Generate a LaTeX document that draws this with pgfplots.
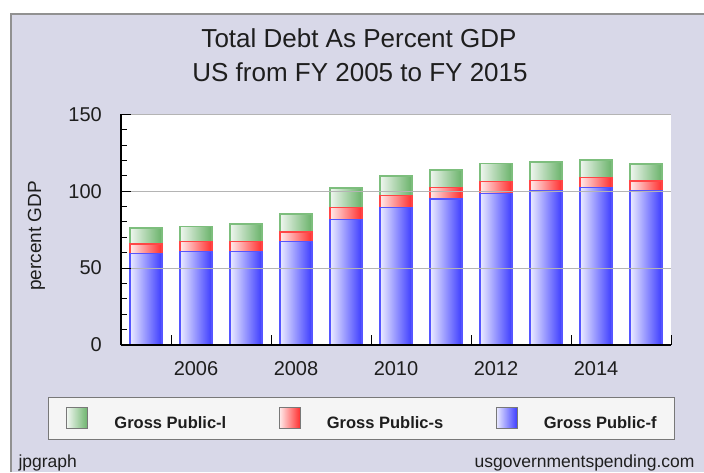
\documentclass[border=0pt]{standalone}
\usepackage{pgfplots}
\usepackage{pgfplotstable}
\pgfplotsset{compat=1.18}
\usepackage{fontspec}
\setmainfont{Liberation Sans}

\definecolor{panel}{RGB}{216,216,232}
\definecolor{framegray}{RGB}{145,145,145}
\definecolor{gridgray}{RGB}{180,180,180}
\definecolor{legfill}{RGB}{245,245,245}
\definecolor{legdraw}{RGB}{120,120,120}
\definecolor{txt}{RGB}{30,30,30}
% bar gradients: light on the left, saturated on the right
\definecolor{fLeft}{RGB}{236,236,255}
\definecolor{fRight}{RGB}{60,60,255}
\definecolor{fEdge}{RGB}{85,85,255}
\definecolor{sLeft}{RGB}{255,236,236}
\definecolor{sRight}{RGB}{255,45,45}
\definecolor{sEdge}{RGB}{255,70,70}
\definecolor{lLeft}{RGB}{240,246,240}
\definecolor{lRight}{RGB}{105,178,105}
\definecolor{lEdge}{RGB}{125,190,125}

% one plot path holds all 11 bars, so the gradient repeats once per bar:
% bar i spans 25+4.6992i .. +3.0075 bp of the shading
\newcommand\barspec[2]{color(0bp)=(#1); color(25bp)=(#1); color(28.008bp)=(#2);
 color(29.699bp)=(#1); color(32.707bp)=(#2);
 color(34.398bp)=(#1); color(37.406bp)=(#2);
 color(39.098bp)=(#1); color(42.105bp)=(#2);
 color(43.797bp)=(#1); color(46.804bp)=(#2);
 color(48.496bp)=(#1); color(51.504bp)=(#2);
 color(53.195bp)=(#1); color(56.203bp)=(#2);
 color(57.894bp)=(#1); color(60.902bp)=(#2);
 color(62.594bp)=(#1); color(65.601bp)=(#2);
 color(67.293bp)=(#1); color(70.300bp)=(#2);
 color(71.992bp)=(#1); color(75bp)=(#2); color(100bp)=(#2)}
\edef\tmp{\noexpand\pgfdeclarehorizontalshading{fshade}{100bp}{\barspec{fLeft}{fRight}}}\tmp
\edef\tmp{\noexpand\pgfdeclarehorizontalshading{sshade}{100bp}{\barspec{sLeft}{sRight}}}\tmp
\edef\tmp{\noexpand\pgfdeclarehorizontalshading{lshade}{100bp}{\barspec{lLeft}{lRight}}}\tmp

% percent of GDP, stacked: f (bottom), s, l (top)
\pgfplotstableread{
idx year f     s    l
0   2005 59.6  6.1  10.4
1   2006 60.7  6.5  10.0
2   2007 60.7  6.5  11.5
3   2008 67.2  6.3  11.7
4   2009 81.7  7.6  12.8
5   2010 89.5  7.6  12.8
6   2011 94.9  7.4  11.5
7   2012 98.6  7.8  11.5
8   2013 100.1 6.7  12.2
9   2014 102.5 6.3  11.5
10  2015 100.1 6.5  11.1
}\debt

\begin{document}
\begin{tikzpicture}
\path[use as bounding box, fill=white] (0pt,0pt) rectangle (704pt,472pt);
\fill[panel] (10pt,0pt) rectangle (704pt,459pt);
\draw[framegray, line width=2pt] (11pt,0pt) -- (11pt,458pt) -- (704pt,458pt);

\node[anchor=base, font=\fontsize{26}{30}\selectfont, text=txt] at (359pt,424pt) {Total Debt As Percent GDP};
\node[anchor=base, font=\fontsize{26}{30}\selectfont, text=txt] at (360pt,390pt) {US from FY 2005 to FY 2015};
\node[anchor=base west, font=\fontsize{17.5}{20}\selectfont, text=txt] at (15pt,5pt) {jpgraph};
\node[anchor=base east, font=\fontsize{17.5}{20}\selectfont, text=txt] at (698pt,5pt) {usgovernmentspending.com};

\begin{axis}[
    at={(121pt,127pt)}, anchor=south west,
    scale only axis, width=550pt, height=230.7pt,
    ybar stacked, bar width=0.64,
    xmin=-0.5, xmax=10.5,
    ymin=0, ymax=150,
    axis background/.style={fill=white},
    axis on top,
    axis x line*=bottom, axis y line*=left,
    axis line style={-, black, line width=1.2pt},
    tick align=inside,
    tick style={black, line width=1pt},
    major tick length=10pt, minor tick length=6pt,
    ytick={0,50,100,150},
    minor y tick num=4,
    ymajorgrids=true,
    grid style={gridgray, line width=1.2pt},
    xtick={0.5,2.5,4.5,6.5,8.5,10.5},
    xticklabels={},
    extra x ticks={1,3,5,7,9},
    extra x tick labels={2006,2008,2010,2012,2014},
    extra x tick style={major tick length=0pt, grid=none},
    /pgf/number format/assume math mode=true,
    tick label style={font=\fontsize{20}{24}\selectfont, text=txt},
    xticklabel style={anchor=base, yshift=-30pt},
    yticklabel style={anchor=east, inner sep=0pt, xshift=-19pt},
    ylabel={percent GDP},
    ylabel style={font=\fontsize{19}{22}\selectfont, text=txt, at={(axis description cs:-0.1536,0.4725)}, anchor=center},
    reverse legend,
    legend columns=3,
    legend style={
        at={(axis description cs:0.4373,-0.3186)}, anchor=center,
        draw=legdraw, fill=legfill, line width=1pt,
        inner xsep=17.5pt, inner ysep=10pt,
        font=\fontsize{16.5}{20}\bfseries\selectfont, text=txt,
        nodes={inner sep=0pt},
        /tikz/every odd column/.style={column sep=26pt},
        /tikz/every even column/.style={column sep=52.5pt},
    },
    legend cell align=left,
]
\addplot[draw=fEdge, line width=1.4pt, shading=fshade, shading angle=0,
    legend image code/.code={\draw[draw=legdraw, line width=1pt, left color=fLeft, right color=fRight] (0pt,-6pt) rectangle (21pt,15pt);}]
    table[x=idx, y=f] {\debt};
\addlegendentry{Gross Public-f}
\addplot[draw=sEdge, line width=1.4pt, shading=sshade, shading angle=0,
    legend image code/.code={\draw[draw=legdraw, line width=1pt, left color=sLeft, right color=sRight] (0pt,-6pt) rectangle (21pt,15pt);}]
    table[x=idx, y=s] {\debt};
\addlegendentry{Gross Public-s}
\addplot[draw=lEdge, line width=1.4pt, shading=lshade, shading angle=0,
    legend image code/.code={\draw[draw=legdraw, line width=1pt, left color=lLeft, right color=lRight] (0pt,-6pt) rectangle (21pt,15pt);}]
    table[x=idx, y=l] {\debt};
\addlegendentry{Gross Public-l}
\end{axis}
\end{tikzpicture}
\end{document}
